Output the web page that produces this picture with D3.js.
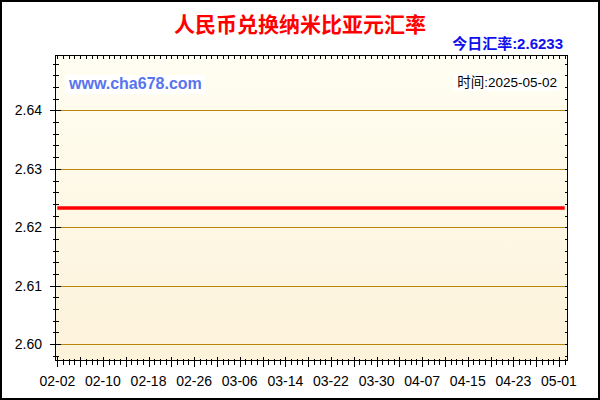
<!DOCTYPE html>
<html lang="zh">
<head>
<meta charset="UTF-8">
<title>人民币兑换纳米比亚元汇率</title>
<script src="https://d3js.org/d3.v7.min.js"></script>
<style>
    body { margin: 0; background: #fff; }
    svg { display: block; }
    text { font-family: "Liberation Sans", Arial, "Noto Sans CJK SC", sans-serif; }
</style>
</head>
<body>
<svg width="600" height="400"></svg>
<script>
// data: the rate stayed flat at 2.6233 over the whole window
const dates = ["2025-02-02", "2025-02-10", "2025-02-18", "2025-02-26", "2025-03-06", "2025-03-14",
               "2025-03-22", "2025-03-30", "2025-04-07", "2025-04-15", "2025-04-23", "2025-05-01", "2025-05-02"];
const rates = [2.6233, 2.6233, 2.6233, 2.6233, 2.6233, 2.6233,
               2.6233, 2.6233, 2.6233, 2.6233, 2.6233, 2.6233, 2.6233];
const yTicks = [2.60, 2.61, 2.62, 2.63, 2.64];
const title = "人民币兑换纳米比亚元汇率";
const todayLabel = "今日汇率:2.6233";
const timeLabel = "时间:2025-05-02";
const site = "www.cha678.com";

const parse = d3.timeParse("%Y-%m-%d");
const data = dates.map((d, i) => ({ date: parse(d), rate: rates[i] }));

const svg = d3.select("svg");
const L = 55.5, R = 567.5, T = 55.5, B = 360.5;

const x = d3.scaleTime()
    .domain([parse("2025-02-02"), parse("2025-05-02")])
    .range([57.3, 564.7]);
const y = d3.scaleLinear()
    .domain([2.5972, 2.6494])
    .range([B, T]);

// outer frame
svg.append("rect").attr("x", 1).attr("y", 1).attr("width", 598).attr("height", 398)
    .attr("fill", "#fff").attr("stroke", "#000").attr("stroke-width", 2);

// plot background gradient
const grad = svg.append("defs").append("linearGradient")
    .attr("id", "bg").attr("x1", 0).attr("y1", 0).attr("x2", 0).attr("y2", 1);
grad.append("stop").attr("offset", "0%").attr("stop-color", "#fffef2");
grad.append("stop").attr("offset", "100%").attr("stop-color", "#fdf2da");
svg.append("rect").attr("x", L).attr("y", T).attr("width", R - L).attr("height", B - T)
    .attr("fill", "url(#bg)");

// grid lines
svg.append("g").selectAll("line").data(yTicks).join("line")
    .attr("x1", L).attr("x2", R)
    .attr("y1", d => Math.round(y(d)) + 0.5).attr("y2", d => Math.round(y(d)) + 0.5)
    .attr("stroke", "#b8860b").attr("stroke-width", 1);

// watermark and date boxes
svg.append("rect").attr("x", 65).attr("y", 75).attr("width", 140).attr("height", 19).attr("fill", "#fff");
svg.append("text").attr("x", 69).attr("y", 89).text(site)
    .attr("fill", "#5873ee").attr("font-size", 16).attr("font-weight", "bold");
svg.append("rect").attr("x", 453).attr("y", 74).attr("width", 106).attr("height", 17).attr("fill", "#fff");
svg.append("text").attr("x", 557).attr("y", 87).attr("text-anchor", "end").text(timeLabel)
    .attr("fill", "#000").attr("font-size", 13.5);

// rate line
svg.append("path").datum(data)
    .attr("fill", "none").attr("stroke", "#ff0000").attr("stroke-width", 3.3)
    .attr("d", d3.line().x(d => x(d.date)).y(d => y(d.rate)));

// axis frame
svg.append("rect").attr("x", L).attr("y", T).attr("width", R - L).attr("height", B - T)
    .attr("fill", "none").attr("stroke", "#000").attr("stroke-width", 1)
    .attr("shape-rendering", "crispEdges");

const ticks = svg.append("g").attr("stroke", "#000").attr("stroke-width", 1)
    .attr("shape-rendering", "crispEdges");

// y ticks
const yMinor = d3.range(2.598, 2.6494, 0.002);
ticks.selectAll(".ymin").data(yMinor).join("line")
    .attr("x1", L - 3).attr("x2", L + 3)
    .attr("y1", d => Math.round(y(d)) + 0.5).attr("y2", d => Math.round(y(d)) + 0.5);
ticks.selectAll(".ymaj").data(yTicks).join("line")
    .attr("x1", L - 6).attr("x2", L + 5)
    .attr("y1", d => Math.round(y(d)) + 0.5).attr("y2", d => Math.round(y(d)) + 0.5);
ticks.selectAll(".yr").data(yMinor).join("line")
    .attr("x1", R - 3).attr("x2", R)
    .attr("y1", d => Math.round(y(d)) + 0.5).attr("y2", d => Math.round(y(d)) + 0.5);

// x ticks: daily minor, every 4 days major, labels every 8 days
const days = d3.timeDay.range(x.domain()[0], d3.timeDay.offset(x.domain()[1], 1));
ticks.selectAll(".xmin").data(days).join("line")
    .attr("x1", d => Math.round(x(d)) + 0.5).attr("x2", d => Math.round(x(d)) + 0.5)
    .attr("y1", B - 2).attr("y2", B + 4);
ticks.selectAll(".xtop").data(days).join("line")
    .attr("x1", d => Math.round(x(d)) + 0.5).attr("x2", d => Math.round(x(d)) + 0.5)
    .attr("y1", T).attr("y2", T + 3);
const majors = days.filter((d, i) => i % 4 === 0);
ticks.selectAll(".xmaj").data(majors).join("line")
    .attr("x1", d => Math.round(x(d)) + 0.5).attr("x2", d => Math.round(x(d)) + 0.5)
    .attr("y1", B - 4).attr("y2", B + 6);

// tick labels
svg.append("g").selectAll("text").data(yTicks).join("text")
    .attr("x", 42).attr("y", d => y(d) + 5).attr("text-anchor", "end")
    .attr("font-size", 14).attr("fill", "#000")
    .text(d => d.toFixed(2));
svg.append("g").selectAll("text").data(data.slice(0, 12)).join("text")
    .attr("x", d => x(d.date)).attr("y", 386).attr("text-anchor", "middle")
    .attr("font-size", 14).attr("fill", "#000")
    .text(d => d3.timeFormat("%m-%d")(d.date));

// titles
svg.append("text").attr("x", 300).attr("y", 32).attr("text-anchor", "middle")
    .attr("font-family", "Noto Sans CJK SC").attr("font-size", 21).attr("font-weight", "bold")
    .attr("fill", "#ff0000").text(title);
svg.append("text").attr("x", 563).attr("y", 49).attr("text-anchor", "end")
    .attr("font-size", 15).attr("font-weight", "bold")
    .attr("fill", "#1010ee").text(todayLabel);
</script>
</body>
</html>
